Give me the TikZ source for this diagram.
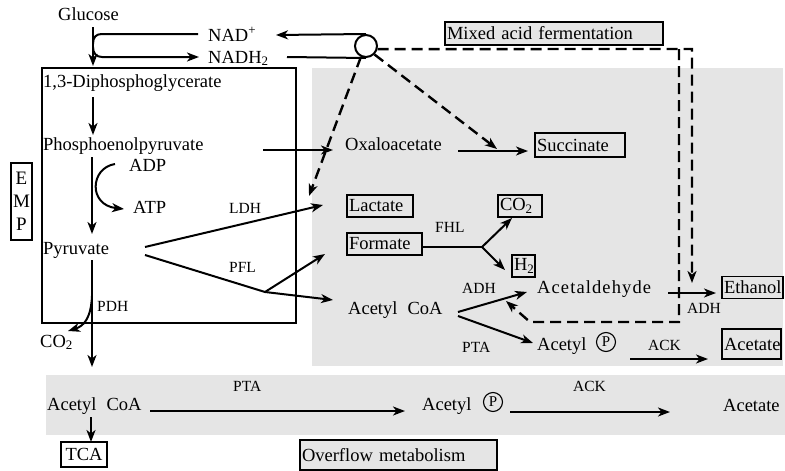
\documentclass[tikz,border=0pt]{standalone}
\usepackage{fontspec}
\setmainfont{Liberation Serif}
\usetikzlibrary{arrows.meta}
\begin{document}
\begin{tikzpicture}[x=1pt,y=-1pt,
  every node/.style={inner sep=0pt},
  txt/.style={font=\fontsize{18.5}{20}\selectfont, anchor=base west},
  lbl/.style={font=\fontsize{15.5}{17}\selectfont, anchor=base west},
  bx/.style={draw, line width=1.3pt, font=\fontsize{18.5}{20}\selectfont, inner xsep=2pt, inner ysep=0pt, align=left},
  tip/.style={-{Stealth[length=12pt,width=9pt,inset=3.5pt]}},
  ln/.style={line width=2pt},
  arr/.style={line width=2pt, tip},
  dsh/.style={line width=2.4pt, dash pattern=on 11pt off 6pt, tip},
  pc/.style={circle, draw, line width=1.1pt, minimum size=19pt, font=\fontsize{15}{16}\selectfont},
  shade/.style={fill=gray!20}
]
\useasboundingbox (0,0) rectangle (785,471);
% gray regions
\fill[shade] (312,68) rectangle (783,366);
\fill[shade] (46,375) rectangle (785,435);
% EMP box
\node[draw, line width=1.3pt, minimum width=254, minimum height=255] (empbox) at (169,195.5) {};
\node[bx, minimum height=77, text width=17, align=center, font=\fontsize{19}{23}\selectfont] (emp) at (21.5,201.5) {E\\M\\P};

% text nodes
\node[txt] (glu) at (58,20) {Glucose};
\node[txt] (nad) at (208,41) {NAD\textsuperscript{+}};
\node[txt] (nadh) at (208,63) {NADH\textsubscript{2}};
\node[txt] (dpg) at (43,87) {1,3-Diphosphoglycerate};
\node[txt] (pep) at (43,150) {Phosphoenolpyruvate};
\node[txt] (adp) at (129,171) {ADP};
\node[txt] (atp) at (133,213) {ATP};
\node[txt] (pyr) at (43,254) {Pyruvate};
\node[lbl] (ldh) at (229,213) {LDH};
\node[lbl] (pfl) at (229,272) {PFL};
\node[lbl] (pdh) at (97,311) {PDH};
\node[txt] (co2a) at (40,347) {CO\textsubscript{2}};
\node[txt] (oxa) at (345,150) {Oxaloacetate};
\node[lbl] (fhl) at (435,232) {FHL};
\node[lbl] (adh1) at (462,293) {ADH};
\node[txt, font=\fontsize{18.5}{20}\selectfont\addfontfeature{LetterSpace=6}] (ald) at (537,293) {Acetaldehyde};
\node[txt] (acoa) at (348,314) {Acetyl\hspace{10pt}CoA};
\node[lbl] (adh2) at (687,313) {ADH};
\node[lbl] (pta1) at (462,352) {PTA};
\node[txt] (acp1) at (537,350) {Acetyl};
\node[pc] (p1) at (606,342) {P};
\node[lbl] (ack1) at (648,350) {ACK};
\node[lbl] (pta2) at (233,391) {PTA};
\node[txt] (acoa2) at (47,410) {Acetyl\hspace{10pt}CoA};
\node[txt] (acp2) at (422,410) {Acetyl};
\node[pc] (p2) at (493,402) {P};
\node[lbl] (ack2) at (573,391) {ACK};
\node[txt] (ace2) at (723,411) {Acetate};

% boxes
\node[bx, shade, minimum height=23, text width=214] (mix) at (554,33.5) {Mixed acid fermentation};
\node[bx, minimum height=24, text width=86] (suc) at (580,145) {Succinate};
\node[bx, minimum height=22, text width=62] (lac) at (380,206) {Lactate};
\node[bx, minimum height=22, text width=71] (for) at (384.5,244) {Formate};
\node[bx, minimum height=22, text width=40] (co2b) at (520,206) {CO\textsubscript{2}};
\node[bx, minimum height=22, text width=19] (h2) at (523.5,266) {H\textsubscript{2}};
\node[bx, minimum height=22, text width=57] (eth) at (752.5,287.5) {Ethanol};
\node[bx, minimum height=30, text width=55] (ace1) at (751.5,344) {Acetate};
\node[bx, minimum height=25, text width=42, align=center] (tca) at (84,454.5) {TCA};
\node[bx, shade, minimum height=30, text width=193] (ovf) at (398.5,455) {Overflow metabolism};

% NAD circle
\node[circle, draw, line width=2pt, minimum size=22] (circ) at (366,46) {};

% connector end points
\coordinate (gluS) at (93,27);
\coordinate (dpgN) at (93,66);
\coordinate (nadW) at (198,34);
\coordinate (nadhW) at (199,57);
\coordinate (nadE) at (276,35);
\coordinate (nadhE) at (287,57);
\coordinate (dpgS) at (93,97);
\coordinate (pepN) at (93,135);
\coordinate (pepS) at (92,157);
\coordinate (pyrN) at (92,234);
\coordinate (adpW) at (115,164);
\coordinate (atpW) at (124,209);
\coordinate (pyrE1) at (145,247);
\coordinate (pyrE2) at (145,255);
\coordinate (lacArr) at (323,205);
\coordinate (pflJ) at (265,292);
\coordinate (forArr) at (325,254);
\coordinate (acoaArr) at (333,300);
\coordinate (pyrS) at (92,260);
\coordinate (acoa2N) at (92,367);
\coordinate (pdhC) at (92,296);
\coordinate (co2aArr) at (68,331);
\coordinate (pepE) at (263,150);
\coordinate (oxaW) at (333,150);
\coordinate (oxaE) at (458,151);
\coordinate (sucW) at (528,151);
\coordinate (forE) at (422,247);
\coordinate (fhlJ) at (482,247);
\coordinate (co2bArr) at (512,218);
\coordinate (h2Arr) at (505,270);
\coordinate (acoaE1) at (458,312);
\coordinate (acoaE2) at (458,316);
\coordinate (aldW) at (527,292);
\coordinate (acp1W) at (533,343);
\coordinate (aldE) at (668,293);
\coordinate (ethW) at (716,293);
\coordinate (ackS) at (630,359);
\coordinate (ace1W) at (708,359);
\coordinate (acoa2E) at (150,411);
\coordinate (acp2W) at (405,411);
\coordinate (acp2E) at (510,412);
\coordinate (ace2W) at (670,412);
\coordinate (acoa2S) at (91,417);
\coordinate (tcaN) at (91,442);
\coordinate (dTR) at (692,49);
\coordinate (dEth) at (692,283);
\coordinate (dTL) at (679,49);
\coordinate (dBR) at (679,322);
\coordinate (dBL) at (530,322);
\coordinate (dAld) at (506,301);
\coordinate (dSuc) at (497,149);
\coordinate (dLac) at (309,196);

% glycolysis
\draw[arr] (gluS) -- (dpgN);
\draw[ln] (nadW) -- (102,34) .. controls (96,34) and (93,37) .. (93,44);
\draw[arr] (93,47) .. controls (93,53) and (96,57) .. (102,57) -- (nadhW);
\draw[arr] (circ.north) -- (nadE);
\draw[ln] (nadhE) -- (circ.south);
\draw[arr] (dpgS) -- (pepN);
\draw[arr] (pepS) -- (pyrN);
\draw[arr] (adpW) .. controls (90,168) and (88,205) .. (atpW);
\draw[arr] (pyrE1) -- (lacArr);
\draw[ln] (pyrE2) -- (pflJ);
\draw[arr] (pflJ) -- (forArr);
\draw[arr] (pflJ) -- (acoaArr);
\draw[arr] (pyrS) -- (acoa2N);
\draw[arr] (pdhC) .. controls (91,318) and (84,326) .. (co2aArr);
% mixed acid
\draw[arr] (pepE) -- (oxaW);
\draw[arr] (oxaE) -- (sucW);
\draw[ln] (forE) -- (fhlJ);
\draw[arr] (fhlJ) -- (co2bArr);
\draw[arr] (fhlJ) -- (h2Arr);
\draw[arr] (acoaE1) -- (aldW);
\draw[arr] (acoaE2) -- (acp1W);
\draw[arr] (aldE) -- (ethW);
\draw[arr] (ackS) -- (ace1W);
% overflow
\draw[arr] (acoa2E) -- (acp2W);
\draw[arr] (acp2E) -- (ace2W);
\draw[arr] (acoa2S) -- (tcaN);
% dashed NADH routes
\draw[dsh] (circ.-15) -- (dTR) -- (dEth);
\draw[dsh] (dTL) -- (dBR) -- (dBL) -- (dAld);
\draw[dsh] (circ.-45) -- (dSuc);
\draw[dsh] (circ.-115) -- (dLac);
\end{tikzpicture}
\end{document}
